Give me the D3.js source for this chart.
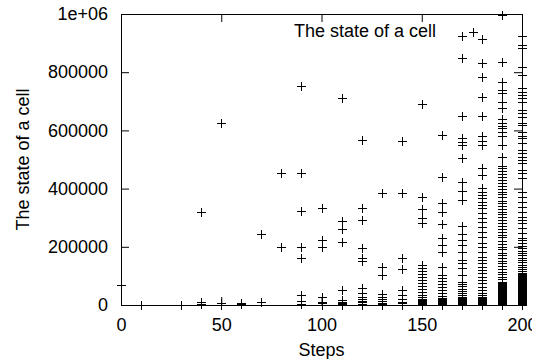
<!DOCTYPE html>
<html>
<head>
<meta charset="utf-8">
<script src="https://cdn.jsdelivr.net/npm/d3@7"></script>
<style>
  body { margin: 0; background: #fff; }
  svg { display: block; }
  text { font-family: "Liberation Sans", Arial, sans-serif; font-size: 18px; fill: #000; }
</style>
</head>
<body>
<script>
// Steps on the x axis and the cell states sampled at each step.
const steps = [0, 10, 30, 40, 50, 60, 70, 80, 90, 100, 110, 120, 130, 140, 150, 160, 170, 180, 190, 200]
const cellStates = [
  [70000],
  [0],
  [0],
  [320000, 12000, 5000],
  [625000, 6000, 1000],
  [8000, 2000],
  [244000, 9000],
  [452000, 200000],
  [752000, 452000, 324000, 200000, 162000, 34000, 15000, 5000],
  [332000, 223000, 200000, 26000, 11000, 6000, 1000],
  [712000, 289000, 260000, 215000, 53000, 17000, 12000, 8000, 5000, 2000, 0],
  [567000, 332000, 292000, 195000, 163000, 150000, 57000, 40000, 28000, 20000, 14000, 9000, 5000, 2000, 0],
  [384000, 132000, 103000, 38000, 26000, 20000, 14000, 8000, 3000, 0],
  [563000, 384000, 162000, 122000, 52000, 33000, 20000, 12000, 6000, 1000],
  [690000, 372000, 329000, 298000, 281000, 137000, 127000, 117000, 106000, 96000, 86000, 76000, 65000,
   55000, 45000, 34000, 27000, 21000, 17000, 14000, 10000, 7000, 3000, 0],
  [584000, 439000, 352000, 321000, 277000, 229000, 206000, 183000, 132000, 103000, 93000, 82000, 72000,
   62000, 52000, 41000, 31000, 24000, 20000, 17000, 13000, 10000, 6000, 3000, 0],
  [924000, 848000, 649000, 575000, 561000, 550000, 504000, 424000, 392000, 362000, 273000, 244000, 223000,
   206000, 183000, 155000, 143000, 126000, 103000, 80000, 72000, 64000, 55000, 48000, 41000, 34000, 27000,
   24000, 21000, 17000, 14000, 10000, 7000, 3000, 0],
  [914000, 833000, 784000, 716000, 649000, 581000, 565000, 550000, 470000, 447000, 401000, 389000, 378000,
   367000, 355000, 344000, 332000, 315000, 298000, 286000, 269000, 252000, 235000, 212000, 200000, 183000,
   166000, 155000, 143000, 132000, 120000, 109000, 97000, 86000, 75000, 63000, 52000, 40000, 34000, 29000,
   25000, 22000, 17000, 14000, 12000, 9000, 6000, 3000, 0],
  [997000, 836000, 767000, 739000, 727000, 699000, 678000, 638000, 624000, 615000, 607000, 595000, 581000,
   550000, 510000, 479000, 471000, 459000, 450000, 440000, 428000, 419000, 409000, 400000, 388000, 380000,
   371000, 359000, 350000, 340000, 330000, 321000, 313000, 301000, 292000, 282000, 270000, 261000, 251000,
   241000, 232000, 220000, 210000, 201000, 192000, 180000, 172000, 161000, 151000, 143000, 134000, 124000,
   113000, 105000, 96000, 88000, 79000, 76000, 72000, 69000, 65000, 62000, 58000, 55000, 52000, 48000,
   45000, 41000, 38000, 34000, 31000, 27000, 24000, 20000, 17000, 13000, 10000, 7000, 5000, 3000, 2000, 0],
  [924000, 893000, 882000, 819000, 790000, 745000, 733000, 722000, 710000, 699000, 670000, 659000, 647000,
   624000, 618000, 595000, 581000, 573000, 556000, 533000, 521000, 510000, 498000, 487000, 464000, 453000,
   435000, 389000, 372000, 355000, 338000, 321000, 303000, 292000, 281000, 264000, 246000, 229000, 222000,
   213000, 204000, 196000, 187000, 179000, 172000, 163000, 155000, 148000, 139000, 131000, 124000, 117000,
   110000, 106000, 103000, 100000, 96000, 93000, 89000, 86000, 82000, 79000, 76000, 72000, 69000, 65000,
   62000, 58000, 55000, 52000, 48000, 45000, 41000, 38000, 34000, 31000, 27000, 24000, 21000, 17000, 14000,
   10000, 7000, 3000, 0]
]
const xTicks = [0, 50, 100, 150, 200]
const yTicks = [0, 200000, 400000, 600000, 800000, 1000000]
const yTickLabels = ['0', '200000', '400000', '600000', '800000', '1e+06']
const seriesName = 'The state of a cell'

// Plot frame.
const margin = { top: 14, right: 21, bottom: 54, left: 121 }
const width = 543 - margin.left - margin.right
const height = 359 - margin.top - margin.bottom

// The reference image is cut off on the right, just after the last tick label starts.
const svg = d3.select('body')
  .append('svg')
    .attr('width', 532)
    .attr('height', 359)
  .append('g')
    .attr('transform', `translate(${margin.left}, ${margin.top})`)

const x = d3.scaleLinear().domain([0, 200]).range([0, width])
const y = d3.scaleLinear().domain([0, 1000000]).range([height, 0])

// Snap to half pixels so 1px strokes stay crisp.
const snap = v => Math.round(v) + 0.5
const cross = (cx, cy, r) => {
  cx = snap(cx); cy = snap(cy)
  return `M${cx - r},${cy}H${cx + r}M${cx},${cy - r}V${cy + r}`
}

// Ticks point inwards on all four sides, gnuplot style.
const styleAxis = g => {
  g.select('.domain').remove()
  g.selectAll('line').attr('stroke', '#000').attr('stroke-width', 1)
  g.selectAll('text').style('font-size', '18px').attr('fill', '#000')
}

svg.append('g')
    .attr('transform', `translate(0, ${height})`)
    .call(d3.axisBottom(x).tickValues(xTicks).tickSize(-8).tickPadding(13).tickFormat(d3.format('d')))
    .call(styleAxis)

svg.append('g')
    .call(d3.axisTop(x).tickValues(xTicks).tickSize(-8).tickFormat(''))
    .call(styleAxis)

svg.append('g')
    .call(d3.axisLeft(y).tickValues(yTicks).tickSize(-8).tickPadding(13)
      .tickFormat((d, i) => yTickLabels[i]))
    .call(styleAxis)

svg.append('g')
    .attr('transform', `translate(${width}, 0)`)
    .call(d3.axisRight(y).tickValues(yTicks).tickSize(-8).tickFormat(''))
    .call(styleAxis)

svg.append('rect')
    .attr('x', 0.5)
    .attr('y', 0.5)
    .attr('width', width)
    .attr('height', height)
    .attr('fill', 'none')
    .attr('stroke', '#000')
    .attr('stroke-width', 1)

// Points.
const points = steps.flatMap((s, i) => cellStates[i].map(v => ({ step: s, value: v })))

svg.append('path')
    .attr('fill', 'none')
    .attr('stroke', '#000')
    .attr('stroke-width', 1)
    .attr('d', points.map(d => cross(x(d.step), y(d.value), 4.5)).join(''))

// Key.
svg.append('text')
    .attr('x', 315)
    .attr('y', 23)
    .style('text-anchor', 'end')
    .text(seriesName)

svg.append('path')
    .attr('fill', 'none')
    .attr('stroke', '#000')
    .attr('d', cross(352, 18, 4.5))

// Axis labels.
svg.append('text')
    .attr('x', width / 2)
    .attr('y', height + 51)
    .style('text-anchor', 'middle')
    .text('Steps')

svg.append('text')
    .attr('transform', `translate(${-92}, ${height / 2}) rotate(-90)`)
    .style('text-anchor', 'middle')
    .text(seriesName)
</script>
</body>
</html>
